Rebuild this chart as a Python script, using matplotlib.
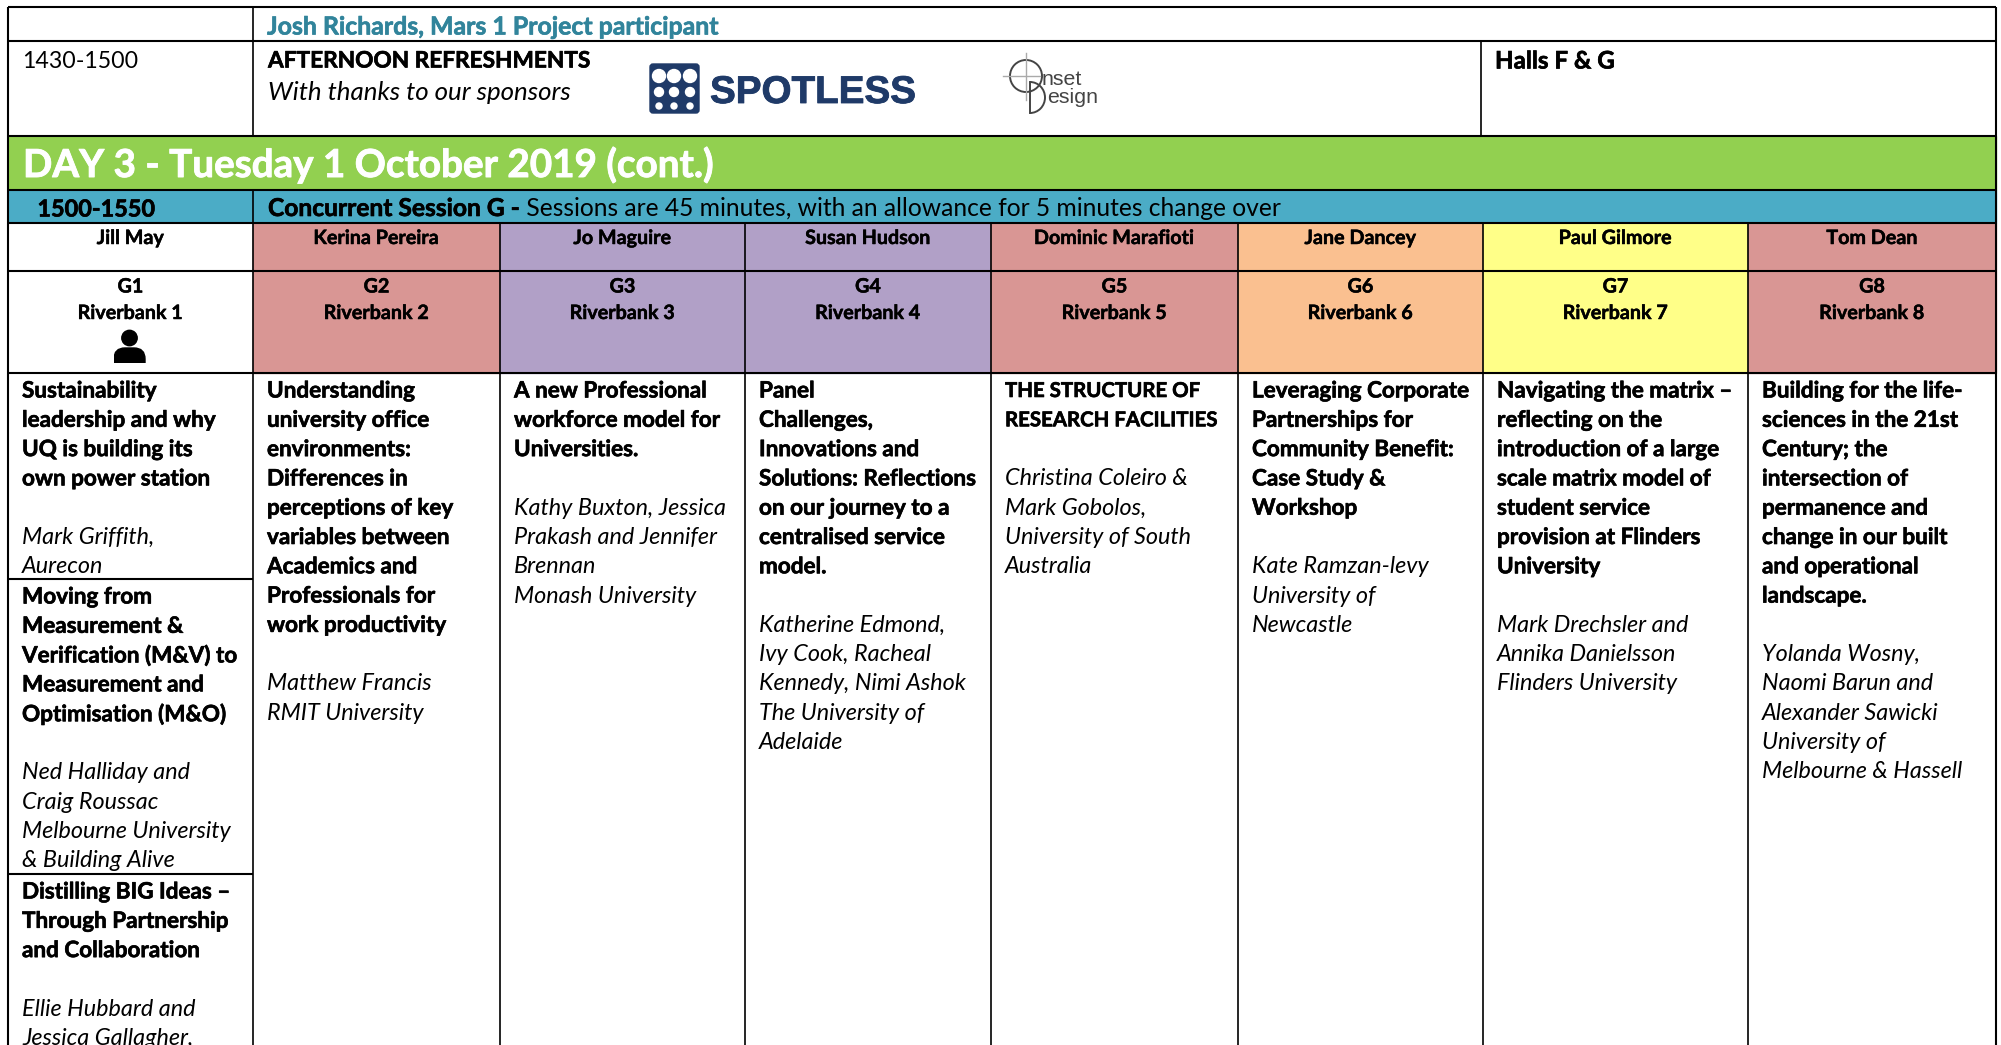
import matplotlib
matplotlib.use("Agg")
import matplotlib.pyplot as plt
import matplotlib.patheffects as pe
from matplotlib.patches import Rectangle, FancyBboxPatch, Circle, Arc

plt.rcParams['font.family'] = ['Lato', 'DejaVu Sans']

speakers = ['Jill May', 'Kerina Pereira', 'Jo Maguire', 'Susan Hudson',
            'Dominic Marafioti', 'Jane Dancey', 'Paul Gilmore', 'Tom Dean']
rooms = ['Riverbank 1', 'Riverbank 2', 'Riverbank 3', 'Riverbank 4',
         'Riverbank 5', 'Riverbank 6', 'Riverbank 7', 'Riverbank 8']
codes = ['G1', 'G2', 'G3', 'G4', 'G5', 'G6', 'G7', 'G8']
stream_colors = ['#ffffff', '#d99694', '#b1a0c7', '#b1a0c7',
                 '#d99694', '#fac090', '#ffff88', '#d99694']

# (bold title lines, italic author lines) - a blank line goes between them
g1_papers = [
    (['Sustainability', 'leadership and why', 'UQ is building its', 'own power station'],
     ['Mark Griffith,', 'Aurecon']),
    (['Moving from', 'Measurement &', 'Verification (M&V) to', 'Measurement and', 'Optimisation (M&O)'],
     ['Ned Halliday and', 'Craig Roussac', 'Melbourne University', '& Building Alive']),
    (['Distilling BIG Ideas –', 'Through Partnership', 'and Collaboration'],
     ['Ellie Hubbard and', 'Jessica Gallagher,']),
]
other_papers = [
    (['Understanding', 'university office', 'environments:', 'Differences in', 'perceptions of key',
      'variables between', 'Academics and', 'Professionals for', 'work productivity'],
     ['Matthew Francis', 'RMIT University']),
    (['A new Professional', 'workforce model for', 'Universities.'],
     ['Kathy Buxton, Jessica', 'Prakash and Jennifer', 'Brennan', 'Monash University']),
    (['Panel', 'Challenges,', 'Innovations and', 'Solutions: Reflections', 'on our journey to a',
      'centralised service', 'model.'],
     ['Katherine Edmond,', 'Ivy Cook, Racheal', 'Kennedy, Nimi Ashok', 'The University of', 'Adelaide']),
    (['THE STRUCTURE OF', 'RESEARCH FACILITIES'],
     ['Christina Coleiro &', 'Mark Gobolos,', 'University of South', 'Australia']),
    (['Leveraging Corporate', 'Partnerships for', 'Community Benefit:', 'Case Study &', 'Workshop'],
     ['Kate Ramzan-levy', 'University of', 'Newcastle']),
    (['Navigating the matrix –', 'reflecting on the', 'introduction of a large', 'scale matrix model of',
      'student service', 'provision at Flinders', 'University'],
     ['Mark Drechsler and', 'Annika Danielsson', 'Flinders University']),
    (['Building for the life-', 'sciences in the 21st', 'Century; the', 'intersection of',
      'permanence and', 'change in our built', 'and operational', 'landscape.'],
     ['Yolanda Wosny,', 'Naomi Barun and', 'Alexander Sawicki', 'University of', 'Melbourne & Hassell']),
]

# page layout, in image pixels
W, H = 2001, 1045
col_x = [8, 253, 500, 745, 991, 1238, 1483, 1748, 1996]
row_y = [7, 41, 136, 190, 223, 271, 373, 1050]
g1_splits = [579, 874]
line_h = 29.3
body_size = 16.2
italic_size = 16.8
head_size = 14.2
bar_size = 17.7

fig = plt.figure(figsize=(W / 100, H / 100), dpi=100)
ax = fig.add_axes([0, 0, 1, 1])
ax.set_xlim(0, W)
ax.set_ylim(H, 0)
ax.axis('off')


def hline(y, x0=col_x[0], x1=col_x[-1], lw=1.5):
    ax.plot([x0, x1], [y, y], color='black', lw=lw, solid_capstyle='butt', zorder=5)


def vline(x, y0, y1, lw=1.2):
    ax.plot([x, x], [y0, y1], color='black', lw=lw, solid_capstyle='butt', zorder=5)


def bold(x, y, s, size=body_size, color='black', ha='left', va='center', stroke=0.45):
    # the Lato bold is lighter than the original, so thicken it a little
    t = ax.text(x, y, s, fontsize=size, fontweight='bold', color=color, ha=ha, va=va)
    t.set_path_effects([pe.withStroke(linewidth=stroke, foreground=color)])
    return t


def draw_paper(x, y, paper):
    title, authors = paper
    for line in title:
        # capitals run wide in Lato
        size = 14.7 if line.isupper() else body_size
        bold(x, y, line, size=size)
        y += line_h
    y += line_h
    for line in authors:
        ax.text(x, y, line, fontsize=italic_size, style='italic', va='center', ha='left')
        y += line_h


# coloured bands
ax.add_patch(Rectangle((col_x[0], row_y[2]), col_x[-1] - col_x[0], row_y[3] - row_y[2], color='#92d050'))
ax.add_patch(Rectangle((col_x[0], row_y[3]), col_x[-1] - col_x[0], row_y[4] - row_y[3], color='#4bacc6'))
for i, c in enumerate(stream_colors):
    ax.add_patch(Rectangle((col_x[i], row_y[4]), col_x[i + 1] - col_x[i], row_y[6] - row_y[4], color=c))

# grid
for y in row_y[:-1]:
    hline(y)
vline(col_x[0], row_y[0], H, lw=1.5)
vline(col_x[-1], row_y[0], H, lw=1.5)
vline(col_x[1], row_y[0], row_y[2])
vline(1481, row_y[1], row_y[2])
vline(col_x[1], row_y[3], row_y[4])
for x in col_x[1:-1]:
    vline(x, row_y[4], H)
for y in g1_splits:
    hline(y, col_x[0], col_x[1])

# top rows
bold(267, 27, 'Josh Richards, Mars 1 Project participant', size=17.9, color='#31849b')
ax.text(22, 61, '1430-1500', fontsize=16.7, va='center')
bold(268, 61, 'AFTERNOON REFRESHMENTS', size=16.3)
ax.text(268, 93, 'With thanks to our sponsors', fontsize=18.6, style='italic', va='center')
bold(1495, 61, 'Halls F & G', size=17.4)

# spotless logo
navy = '#1f3a68'
ax.add_patch(FancyBboxPatch((650, 64), 49, 49, boxstyle='round,pad=0,rounding_size=3', color=navy))
for cy, d in zip([76, 92, 106], [13, 9, 6]):
    for cx in [659, 674, 690]:
        ax.add_patch(Circle((cx, cy), d / 2, color='white'))
logo = ax.text(710, 103, 'SPOTLESS', family='Liberation Sans', fontsize=27.8, fontweight='bold',
               color=navy, va='baseline', ha='left')
logo.set_path_effects([pe.withStroke(linewidth=0.6, foreground=navy)])

# onset design logo
grey = '#444444'
ax.add_patch(Circle((1026, 76), 16, fill=False, ec=grey, lw=1.4))
ax.plot([1003, 1040], [76, 76], color='#aaaaaa', lw=1)
ax.plot([1026, 1026], [53, 100], color='#aaaaaa', lw=1)
ax.plot([1030, 1030], [82, 113], color=grey, lw=1.4)
ax.add_patch(Arc((1030, 97.5), 30, 31, theta1=-90, theta2=90, ec=grey, lw=1.4))
ax.text(1042, 85, 'nset', fontsize=15.4, color=grey, family='Liberation Sans', va='baseline')
ax.text(1047, 103, 'esign', fontsize=15.4, color=grey, family='Liberation Sans', va='baseline')

# day banner and session bar
bold(23, 165, 'DAY 3 - Tuesday 1 October 2019 (cont.)', size=27.8, color='white', stroke=0.6)
bold(96.5, 210, '1500-1550', size=16.9, ha='center')
t = bold(268, 216, 'Concurrent Session G -', size=bar_size, va='baseline')
ax.annotate(' Sessions are 45 minutes, with an allowance for 5 minutes change over',
            xy=(1, 0), xycoords=t, fontsize=bar_size, va='bottom', ha='left',
            annotation_clip=False)

# stream headers
for i in range(8):
    cx = (col_x[i] + col_x[i + 1]) / 2
    bold(cx, 238, speakers[i], size=head_size, ha='center', stroke=0.35)
    bold(cx, 286.5, codes[i], size=head_size, ha='center', stroke=0.35)
    bold(cx, 313, rooms[i], size=head_size, ha='center', stroke=0.35)

# person icon in G1
icon_x = (col_x[0] + col_x[1]) / 2 - 1
ax.add_patch(Circle((icon_x, 338), 7.7, color='black'))
body = FancyBboxPatch((icon_x - 15.5, 348), 31, 30, boxstyle='round,pad=0,rounding_size=11', color='black')
ax.add_patch(body)
body.set_clip_path(Rectangle((icon_x - 16, 347), 32, 16, transform=ax.transData))

# session papers
g1_tops = [391, 597, 892]
for paper, top in zip(g1_papers, g1_tops):
    draw_paper(col_x[0] + 14, top, paper)
for i, paper in enumerate(other_papers):
    draw_paper(col_x[i + 1] + 14, 391, paper)

fig.savefig('out.png', dpi=100)
plt.close(fig)
